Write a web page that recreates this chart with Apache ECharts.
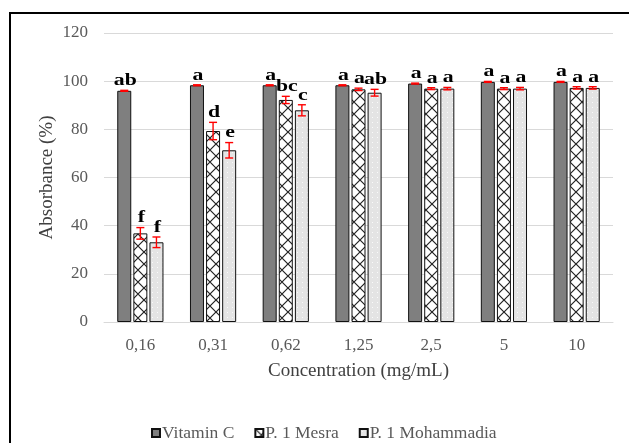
<!DOCTYPE html>
<html><head><meta charset="utf-8">
<script src="https://cdn.jsdelivr.net/npm/echarts@6/dist/echarts.min.js"></script>
<style>html,body{margin:0;padding:0;background:#fff}#c{width:629px;height:443px}</style>
</head><body><div id="c"></div>
<script>
const categories = ['0,16','0,31','0,62','1,25','2,5','5','10'];
const seriesNames = ['Vitamin C','P. 1 Mesra','P. 1 Mohammadia'];
const vitaminC = [96.0, 98.3, 98.3, 98.3, 99.0, 99.7, 99.7];
const mesra = [36.8, 79.3, 92.2, 96.6, 96.9, 96.9, 97.2];
const mohammadia = [33.1, 71.3, 87.9, 95.2, 96.9, 96.9, 97.2];
const vitaminCErr = [0.2, 0.2, 0.2, 0.2, 0.2, 0.2, 0.2];
const mesraErr = [2.4, 3.6, 1.5, 0.5, 0.4, 0.4, 0.5];
const mohammadiaErr = [2.2, 3.2, 2.3, 1.4, 0.5, 0.5, 0.5];
const vitaminCLetters = ['ab','a','a','a','a','a','a'];
const mesraLetters = ['f','d','bc','a','a','a','a'];
const mohammadiaLetters = ['f','e','c','ab','a','a','a'];
const yTicks = [0, 20, 40, 60, 80, 100, 120];

const FONT = '"Liberation Serif", "Times New Roman", serif';
const BAR_W = 14, BAR_GAP = 0.15, CAP = 8;

function hatchPattern(){
  const w = 12, h = 12;
  const c = document.createElement('canvas'); c.width = w; c.height = h;
  const g = c.getContext('2d');
  g.fillStyle = '#fff'; g.fillRect(0,0,w,h);
  g.strokeStyle = '#222'; g.lineWidth = 1.2;
  g.beginPath();
  g.moveTo(-1,-1); g.lineTo(w+1,h+1);
  g.moveTo(w+1,-1); g.lineTo(-1,h+1);
  g.stroke();
  return c;
}
function dotPattern(){
  const c = document.createElement('canvas'); c.width = 5; c.height = 5;
  const g = c.getContext('2d');
  g.fillStyle = '#e4e4e4'; g.fillRect(0,0,5,5);
  g.fillStyle = '#fafafa'; g.fillRect(2,2,1,1);
  return c;
}

const fills = ['#7f7f7f', {image: hatchPattern(), repeat: 'repeat'}, {image: dotPattern(), repeat: 'repeat'}];
const values = [vitaminC, mesra, mohammadia];
const errs = [vitaminCErr, mesraErr, mohammadiaErr];
const letters = [vitaminCLetters, mesraLetters, mohammadiaLetters];

const barSeries = seriesNames.map((n, k) => ({
  name: n, type: 'bar', data: values[k], barWidth: BAR_W, barGap: (BAR_GAP*100)+'%',
  itemStyle: {color: fills[k], borderColor: '#111', borderWidth: 1},
  emphasis: {disabled: true}, z: 2
}));

const errSeries = seriesNames.map((n, k) => ({
  type: 'custom', name: 'err' + k, z: 10, silent: true,
  data: values[k].map((v, i) => [i, v, errs[k][i]]),
  encode: {x: 0, y: 1},
  renderItem: (params, api) => {
    const i = api.value(0), v = api.value(1), e = api.value(2);
    const off = (k - 1) * BAR_W * (1 + BAR_GAP);
    const x = api.coord([i, v])[0] + off;
    const yt = api.coord([i, v + e])[1], yb = api.coord([i, v - e])[1];
    const h = CAP / 2;
    const st = {stroke: '#ff0000', lineWidth: 1.4};
    return {type: 'group', children: [
      {type: 'line', shape: {x1: x, y1: yt, x2: x, y2: yb}, style: st},
      {type: 'line', shape: {x1: x - h, y1: yt, x2: x + h, y2: yt}, style: st},
      {type: 'line', shape: {x1: x - h, y1: yb, x2: x + h, y2: yb}, style: st},
      {type: 'text', x: x + 1, y: yt - 1, scaleX: 1.28, scaleY: 1,
        style: {text: letters[k][params.dataIndex],
        font: 'bold 17px ' + FONT, fill: '#000', align: 'center', verticalAlign: 'bottom'}}
    ]};
  }
}));

const chart = echarts.init(document.getElementById('c'), null, {renderer: 'canvas'});
chart.setOption({
  animation: false,
  backgroundColor: '#fff',
  graphic: [{type: 'rect', shape: {x: 10, y: 13, width: 640, height: 460},
    style: {fill: 'none', stroke: '#000', lineWidth: 2}, z: 100, silent: true}],
  grid: {left: 104, right: 16, top: 33, bottom: 121},
  legend: {
    data: seriesNames, left: 146, top: 419, icon: 'rect', itemWidth: 8, itemHeight: 8, itemGap: 20,
    textStyle: {fontFamily: FONT, fontSize: 17.5, color: '#595959', padding: [0,0,0,-3]},
    selectedMode: false
  },
  xAxis: {
    type: 'category', data: categories,
    axisLine: {lineStyle: {color: '#d9d9d9', width: 1}},
    axisTick: {show: false},
    axisLabel: {fontFamily: FONT, fontSize: 17, color: '#595959', margin: 15},
    name: 'Concentration (mg/mL)', nameLocation: 'middle', nameGap: 40, nameMoveOverlap: false,
    nameTextStyle: {fontFamily: FONT, fontSize: 19, color: '#404040'}
  },
  yAxis: {
    type: 'value', min: yTicks[0], max: yTicks[yTicks.length - 1], interval: yTicks[1] - yTicks[0],
    axisLine: {show: false}, axisTick: {show: false},
    splitLine: {lineStyle: {color: '#d9d9d9', width: 1}},
    axisLabel: {fontFamily: FONT, fontSize: 17, color: '#595959', margin: 16},
    name: 'Absorbance (%)', nameLocation: 'middle', nameGap: 47, nameMoveOverlap: false,
    nameTextStyle: {fontFamily: FONT, fontSize: 19, color: '#404040'}
  },
  series: barSeries.concat(errSeries)
});
</script></body></html>
